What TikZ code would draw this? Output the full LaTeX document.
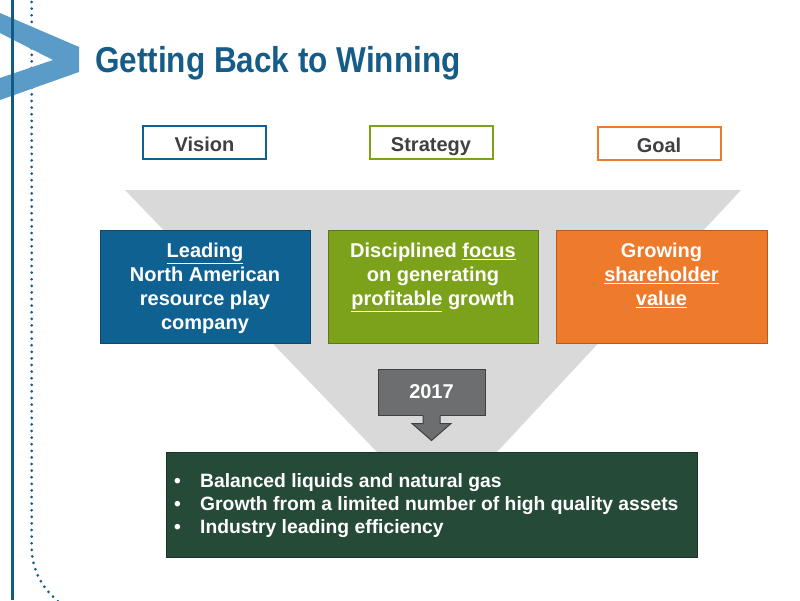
\documentclass[tikz,border=0pt]{standalone}
\usepackage{fontspec}
\setmainfont{Liberation Sans}
\usetikzlibrary{positioning,calc}
\definecolor{titleblue}{HTML}{155C88}
\definecolor{chevblue}{HTML}{5B9BC8}
\definecolor{railblue}{HTML}{125A88}
\definecolor{boxblue}{HTML}{0F6191}
\definecolor{boxgreen}{HTML}{7BA21A}
\definecolor{boxorange}{HTML}{EE7B2B}
\definecolor{darkgreen}{HTML}{264A38}
\definecolor{funnelgray}{HTML}{D9D9D9}
\definecolor{yeargray}{HTML}{6D6E70}
\definecolor{labelgray}{HTML}{404040}
\tikzset{
    headbox/.style={draw, line width=2pt, fill=white, minimum width=123pt,
        minimum height=33pt, inner sep=0pt, text height=20pt, text depth=0.6pt,
        font=\fontsize{20}{24}\selectfont\bfseries, text=labelgray},
    colbox/.style={line width=1pt, minimum width=210pt, minimum height=113pt, inner sep=0pt},
    coltext/.style={anchor=north, inner sep=0pt, align=center, text=white,
        font=\fontsize{20}{24}\selectfont\bfseries}
}

\begin{document}
\begin{tikzpicture}[
    x=1pt, y=-1pt,
    node distance=17pt,
    yearbox/.style={fill=yeargray, draw=labelgray, line width=1pt, minimum width=107pt,
        minimum height=46pt, inner sep=0pt, text=white, font=\fontsize{20}{24}\selectfont\bfseries}
]
\useasboundingbox (0,0) rectangle (800,600);
% side rail and chevron
\draw[railblue, line width=3pt, dash pattern=on 0pt off 6.6pt, line cap=round]
    (31.7,2) -- (31.7,548) .. controls (32,572) and (44,590) .. (60,603);
\fill[chevblue] (0,13) -- (79,47) -- (79,72) -- (0,100) -- (0,78) -- (53,60) -- (0,33) -- cycle;
\draw[railblue, line width=3pt] (12.5,0) -- (12.5,600);
\node[anchor=base west, inner sep=0pt, text=titleblue, font=\fontsize{36}{40}\selectfont\bfseries]
    (title) at (95,72) {\scalebox{0.875}[1]{Getting Back to Winning}};
% funnel
\fill[funnelgray] (125,190) -- (741,190) -- (497,452) -- (377,452) -- cycle;
% column headings
\node[headbox, draw=boxblue] (vision) at (204.5,142) {Vision};
\node[headbox, draw=boxgreen] (strategy) at (431,142) {Strategy};
\node[headbox, draw=boxorange] (goal) at (659,143) {Goal};
% columns
\node[colbox, fill=boxblue, draw=boxblue!75!black] (lead) at (205,286.5) {};
\node[colbox, fill=boxgreen, draw=boxgreen!75!black, right=of lead] (focus) {};
\node[colbox, fill=boxorange, draw=boxorange!75!black, right=of focus, minimum width=211pt] (value) {};
\node[coltext] (leadtxt) at ([yshift=-13.3pt]lead.north) {\underline{Leading}\\North American\\resource play\\company};
\node[coltext] (focustxt) at ([yshift=-13.3pt]focus.north) {Disciplined \underline{focus}\\on generating\\\underline{profitable} growth};
\node[coltext] (valuetxt) at ([yshift=-13.3pt]value.north) {Growing\\\underline{shareholder}\\\underline{value}};
% 2017 arrow
\node[yearbox] (year) at (431.5,392) {2017};
\fill[yeargray] ([xshift=-8.5pt,yshift=1pt]year.south) -- ++(0,9) -- ++(-11,0) -- ++(19.5,17)
    -- ++(19.5,-17) -- ++(-11,0) -- ++(0,-9) -- cycle;
\draw[labelgray, line width=1pt] ([xshift=-8.5pt]year.south) -- ++(0,8) -- ++(-11,0) -- ++(19.5,17)
    -- ++(19.5,-17) -- ++(-11,0) -- ++(0,-8);
% outcome box
\node[fill=darkgreen, draw=darkgreen!70!black, line width=1pt, minimum width=531pt,
    minimum height=105pt, inner sep=0pt] (aims) at (431.5,504.5) {};
\node[anchor=north west, inner sep=0pt, align=left, text=white, font=\fontsize{19.3}{23}\selectfont\bfseries]
    (aimstxt) at (174,473.5) {\makebox[26pt][l]{\textbullet}Balanced liquids and natural gas\\
    \makebox[26pt][l]{\textbullet}Growth from a limited number of high quality assets\\
    \makebox[26pt][l]{\textbullet}Industry leading efficiency};
\end{tikzpicture}
\end{document}
